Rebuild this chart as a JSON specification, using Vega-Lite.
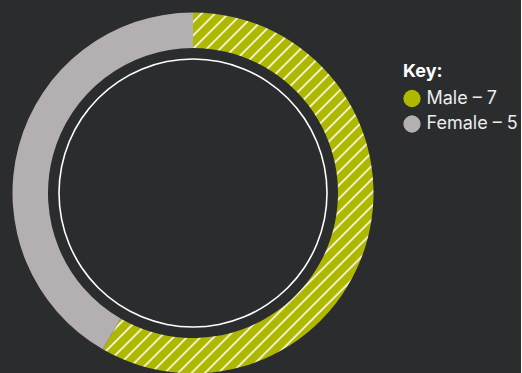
{
  "$schema": "https://vega.github.io/schema/vega-lite/v6.json",
  "width": 386,
  "height": 386,
  "autosize": {"type": "pad"},
  "padding": {"left": 0, "top": 0, "right": 3, "bottom": 0},
  "background": "#2b2c2e",
  "config": {"view": {"stroke": null}, "font": "Inter"},
  "layer": [
    {
      "data": {"values": [{"gender": "Male – 7", "count": 7}, {"gender": "Female – 5", "count": 5}]},
      "mark": {"type": "arc", "outerRadius": 180.5, "innerRadius": 145},
      "encoding": {
        "theta": {"field": "count", "type": "quantitative", "stack": true},
        "order": {"field": "count", "sort": "descending"},
        "fill": {
          "field": "gender",
          "type": "nominal",
          "scale": {"domain": ["Male – 7", "Female – 5"], "range": ["#afb800", "#b4b0b1"]},
          "condition": {
            "test": "datum.count === 7",
            "value": {
              "gradient": "linear", "x1": 0, "y1": 0, "x2": 0.84, "y2": 1.12,
              "stops": [
                {"offset":0.0057,"color":"#afb800"},{"offset":0.0092,"color":"#ffffff"},{"offset":0.0127,"color":"#afb800"},
                {"offset":0.0270,"color":"#afb800"},{"offset":0.0305,"color":"#ffffff"},{"offset":0.0340,"color":"#afb800"},
                {"offset":0.0482,"color":"#afb800"},{"offset":0.0517,"color":"#ffffff"},{"offset":0.0552,"color":"#afb800"},
                {"offset":0.0695,"color":"#afb800"},{"offset":0.0730,"color":"#ffffff"},{"offset":0.0765,"color":"#afb800"},
                {"offset":0.0908,"color":"#afb800"},{"offset":0.0943,"color":"#ffffff"},{"offset":0.0978,"color":"#afb800"},
                {"offset":0.1121,"color":"#afb800"},{"offset":0.1156,"color":"#ffffff"},{"offset":0.1191,"color":"#afb800"},
                {"offset":0.1333,"color":"#afb800"},{"offset":0.1368,"color":"#ffffff"},{"offset":0.1403,"color":"#afb800"},
                {"offset":0.1546,"color":"#afb800"},{"offset":0.1581,"color":"#ffffff"},{"offset":0.1616,"color":"#afb800"},
                {"offset":0.1759,"color":"#afb800"},{"offset":0.1794,"color":"#ffffff"},{"offset":0.1829,"color":"#afb800"},
                {"offset":0.1971,"color":"#afb800"},{"offset":0.2006,"color":"#ffffff"},{"offset":0.2041,"color":"#afb800"},
                {"offset":0.2184,"color":"#afb800"},{"offset":0.2219,"color":"#ffffff"},{"offset":0.2254,"color":"#afb800"},
                {"offset":0.2397,"color":"#afb800"},{"offset":0.2432,"color":"#ffffff"},{"offset":0.2467,"color":"#afb800"},
                {"offset":0.2609,"color":"#afb800"},{"offset":0.2644,"color":"#ffffff"},{"offset":0.2679,"color":"#afb800"},
                {"offset":0.2822,"color":"#afb800"},{"offset":0.2857,"color":"#ffffff"},{"offset":0.2892,"color":"#afb800"},
                {"offset":0.3035,"color":"#afb800"},{"offset":0.3070,"color":"#ffffff"},{"offset":0.3105,"color":"#afb800"},
                {"offset":0.3248,"color":"#afb800"},{"offset":0.3283,"color":"#ffffff"},{"offset":0.3318,"color":"#afb800"},
                {"offset":0.3460,"color":"#afb800"},{"offset":0.3495,"color":"#ffffff"},{"offset":0.3530,"color":"#afb800"},
                {"offset":0.3673,"color":"#afb800"},{"offset":0.3708,"color":"#ffffff"},{"offset":0.3743,"color":"#afb800"},
                {"offset":0.3886,"color":"#afb800"},{"offset":0.3921,"color":"#ffffff"},{"offset":0.3956,"color":"#afb800"},
                {"offset":0.4098,"color":"#afb800"},{"offset":0.4133,"color":"#ffffff"},{"offset":0.4168,"color":"#afb800"},
                {"offset":0.4311,"color":"#afb800"},{"offset":0.4346,"color":"#ffffff"},{"offset":0.4381,"color":"#afb800"},
                {"offset":0.4524,"color":"#afb800"},{"offset":0.4559,"color":"#ffffff"},{"offset":0.4594,"color":"#afb800"},
                {"offset":0.4736,"color":"#afb800"},{"offset":0.4771,"color":"#ffffff"},{"offset":0.4806,"color":"#afb800"},
                {"offset":0.4949,"color":"#afb800"},{"offset":0.4984,"color":"#ffffff"},{"offset":0.5019,"color":"#afb800"},
                {"offset":0.5162,"color":"#afb800"},{"offset":0.5197,"color":"#ffffff"},{"offset":0.5232,"color":"#afb800"},
                {"offset":0.5375,"color":"#afb800"},{"offset":0.5410,"color":"#ffffff"},{"offset":0.5445,"color":"#afb800"},
                {"offset":0.5587,"color":"#afb800"},{"offset":0.5622,"color":"#ffffff"},{"offset":0.5657,"color":"#afb800"},
                {"offset":0.5800,"color":"#afb800"},{"offset":0.5835,"color":"#ffffff"},{"offset":0.5870,"color":"#afb800"},
                {"offset":0.6013,"color":"#afb800"},{"offset":0.6048,"color":"#ffffff"},{"offset":0.6083,"color":"#afb800"},
                {"offset":0.6225,"color":"#afb800"},{"offset":0.6260,"color":"#ffffff"},{"offset":0.6295,"color":"#afb800"},
                {"offset":0.6438,"color":"#afb800"},{"offset":0.6473,"color":"#ffffff"},{"offset":0.6508,"color":"#afb800"},
                {"offset":0.6651,"color":"#afb800"},{"offset":0.6686,"color":"#ffffff"},{"offset":0.6721,"color":"#afb800"},
                {"offset":0.6863,"color":"#afb800"},{"offset":0.6898,"color":"#ffffff"},{"offset":0.6933,"color":"#afb800"},
                {"offset":0.7076,"color":"#afb800"},{"offset":0.7111,"color":"#ffffff"},{"offset":0.7146,"color":"#afb800"},
                {"offset":0.7289,"color":"#afb800"},{"offset":0.7324,"color":"#ffffff"},{"offset":0.7359,"color":"#afb800"},
                {"offset":0.7502,"color":"#afb800"},{"offset":0.7537,"color":"#ffffff"},{"offset":0.7572,"color":"#afb800"},
                {"offset":0.7714,"color":"#afb800"},{"offset":0.7749,"color":"#ffffff"},{"offset":0.7784,"color":"#afb800"},
                {"offset":0.7927,"color":"#afb800"},{"offset":0.7962,"color":"#ffffff"},{"offset":0.7997,"color":"#afb800"},
                {"offset":0.8140,"color":"#afb800"},{"offset":0.8175,"color":"#ffffff"},{"offset":0.8210,"color":"#afb800"},
                {"offset":0.8352,"color":"#afb800"},{"offset":0.8387,"color":"#ffffff"},{"offset":0.8422,"color":"#afb800"},
                {"offset":0.8565,"color":"#afb800"},{"offset":0.8600,"color":"#ffffff"},{"offset":0.8635,"color":"#afb800"},
                {"offset":0.8778,"color":"#afb800"},{"offset":0.8813,"color":"#ffffff"},{"offset":0.8848,"color":"#afb800"},
                {"offset":0.8990,"color":"#afb800"},{"offset":0.9025,"color":"#ffffff"},{"offset":0.9060,"color":"#afb800"},
                {"offset":0.9203,"color":"#afb800"},{"offset":0.9238,"color":"#ffffff"},{"offset":0.9273,"color":"#afb800"},
                {"offset":0.9416,"color":"#afb800"},{"offset":0.9451,"color":"#ffffff"},{"offset":0.9486,"color":"#afb800"},
                {"offset":0.9629,"color":"#afb800"},{"offset":0.9664,"color":"#ffffff"},{"offset":0.9699,"color":"#afb800"},
                {"offset":0.9841,"color":"#afb800"},{"offset":0.9876,"color":"#ffffff"},{"offset":0.9911,"color":"#afb800"}
              ]
            }
          },
          "legend": {
            "orient": "none",
            "legendX": 403,
            "legendY": 63,
            "title": "Key:",
            "titleFont": "Inter",
            "titleFontSize": 18,
            "titleFontWeight": "bold",
            "titleColor": "#ffffff",
            "titlePadding": 8.5,
            "padding": 0,
            "labelFont": "Inter",
            "labelFontSize": 18,
            "labelColor": "#ececec",
            "labelOffset": 5.5,
            "rowPadding": 7.5,
            "symbolType": "circle",
            "symbolSize": 299,
            "symbolStrokeWidth": 0,
            "symbolOpacity": 1
          }
        }
      }
    },
    {
      "data": {"values": [{"ring": "inner"}]},
      "mark": {"type": "arc", "theta": 0, "theta2": 6.2832, "outerRadius": 134.8, "innerRadius": 133.2, "fill": "#ffffff"},
      "encoding": {}
    }
  ]
}
